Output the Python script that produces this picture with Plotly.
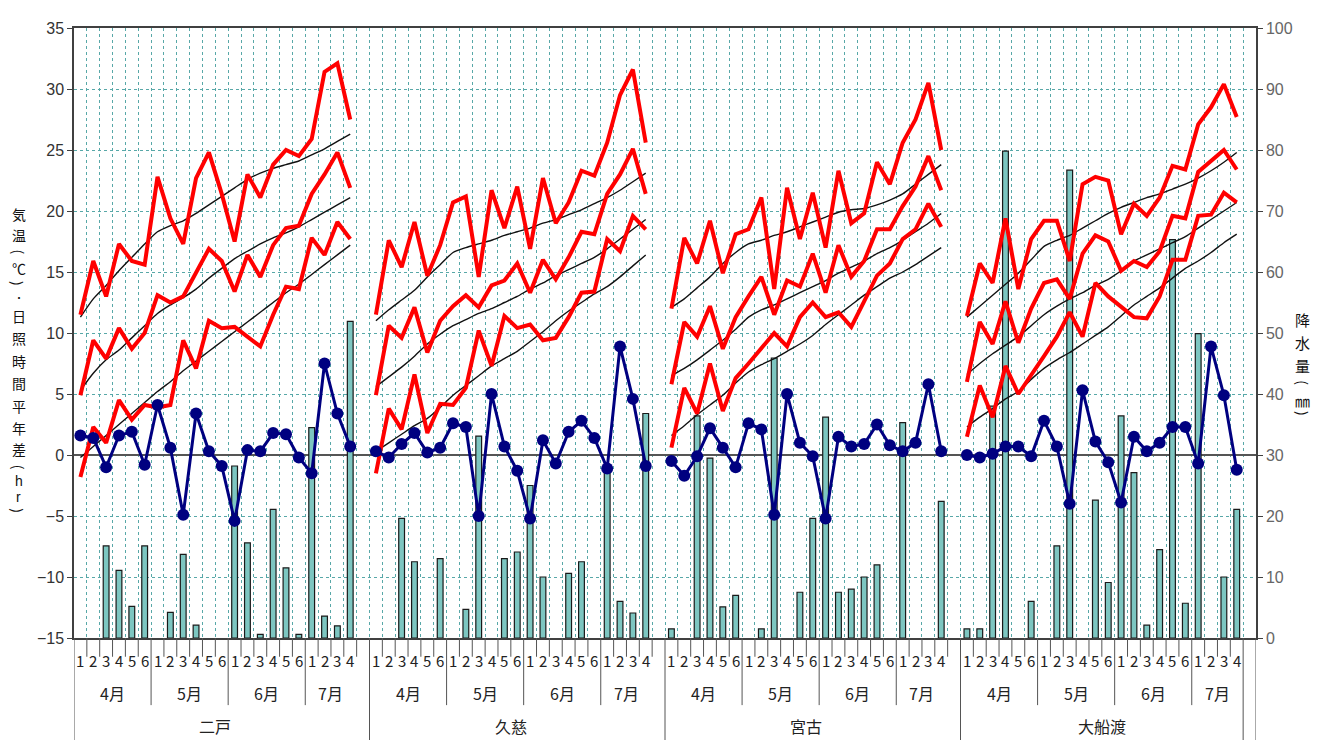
import plotly.graph_objects as go

# ---------------- data ----------------
stations = ["二戸", "久慈", "宮古", "大船渡"]
months = ["4月", "5月", "6月", "7月"]
periods_per_month = [6, 6, 6, 4]

# 二戸
ninohe_tmax = [11.5, 15.9, 13.0, 17.3, 15.9, 15.6, 22.8, 19.4, 17.3, 22.7, 24.8, 21.4, 17.5, 23.0, 21.1, 23.8, 25.0, 24.5, 25.9, 31.4, 32.1, 27.5]
ninohe_tmax_norm = [11.3, 12.8, 13.9, 15.1, 16.2, 17.3, 18.3, 18.8, 19.2, 19.8, 20.5, 21.2, 21.9, 22.6, 23.1, 23.5, 23.8, 24.1, 24.6, 25.1, 25.7, 26.3]
ninohe_tmean = [4.9, 9.4, 7.9, 10.4, 8.7, 10.0, 13.1, 12.5, 13.0, 14.9, 16.9, 15.9, 13.4, 16.4, 14.6, 17.2, 18.6, 18.8, 21.4, 23.0, 24.8, 21.9]
ninohe_tmean_norm = [5.3, 6.7, 7.8, 8.6, 9.6, 10.6, 11.6, 12.3, 12.9, 13.6, 14.5, 15.3, 16.1, 16.7, 17.3, 17.8, 18.2, 18.7, 19.3, 19.9, 20.5, 21.1]
ninohe_tmin = [-1.8, 2.3, 1.0, 4.5, 2.9, 4.1, 3.9, 4.1, 9.4, 7.1, 11.0, 10.4, 10.5, 9.7, 8.9, 11.5, 13.8, 13.6, 17.8, 16.4, 19.1, 17.7]
ninohe_tmin_norm = [-0.2, 0.7, 1.6, 2.5, 3.4, 4.3, 5.2, 6.0, 6.9, 7.7, 8.5, 9.3, 10.1, 10.9, 11.7, 12.5, 13.3, 14.0, 14.8, 15.6, 16.4, 17.2]
ninohe_sun = [1.6, 1.4, -1.0, 1.6, 1.9, -0.8, 4.1, 0.6, -4.9, 3.4, 0.3, -0.9, -5.4, 0.4, 0.3, 1.8, 1.7, -0.2, -1.5, 7.5, 3.4, 0.7]
ninohe_precip = [None, None, 15.1, 11.1, 5.2, 15.1, None, 4.2, 13.7, 2.1, None, None, 28.2, 15.6, 0.6, 21.1, 11.5, 0.6, 34.5, 3.6, 2.0, 51.9]

# 久慈
kuji_tmax = [11.5, 17.6, 15.4, 19.1, 14.7, 17.2, 20.7, 21.2, 14.6, 21.7, 18.6, 22.0, 16.9, 22.7, 19.0, 20.7, 23.3, 22.9, 25.6, 29.5, 31.6, 25.6]
kuji_tmax_norm = [11.0, 11.9, 12.7, 13.5, 14.6, 15.6, 16.6, 17.0, 17.3, 17.6, 18.0, 18.3, 18.6, 19.0, 19.3, 19.7, 20.1, 20.6, 21.1, 21.7, 22.4, 23.1]
kuji_tmean = [4.9, 10.6, 9.6, 12.1, 8.4, 11.0, 12.2, 13.1, 12.1, 13.9, 14.3, 15.7, 13.3, 16.0, 14.4, 16.2, 18.3, 18.1, 21.4, 23.0, 25.1, 21.4]
kuji_tmean_norm = [5.6, 6.4, 7.2, 8.1, 9.1, 9.9, 10.6, 11.1, 11.6, 12.0, 12.5, 13.0, 13.6, 14.1, 14.7, 15.2, 15.7, 16.2, 16.9, 17.7, 18.5, 19.3]
kuji_tmin = [-1.5, 3.8, 2.1, 6.6, 1.8, 4.2, 4.1, 5.5, 10.2, 7.3, 11.4, 10.4, 10.7, 9.4, 9.6, 11.3, 13.3, 13.4, 17.7, 16.7, 19.6, 18.5]
kuji_tmin_norm = [0.3, 1.0, 1.7, 2.4, 3.0, 3.9, 4.9, 5.7, 6.5, 7.3, 7.9, 8.5, 9.3, 10.1, 11.0, 11.8, 12.5, 13.2, 13.8, 14.6, 15.5, 16.4]
kuji_sun = [0.3, -0.2, 0.9, 1.8, 0.2, 0.6, 2.6, 2.3, -5.0, 5.0, 0.7, -1.3, -5.2, 1.2, -0.7, 1.9, 2.8, 1.4, -1.1, 8.9, 4.6, -0.9]
kuji_precip = [None, None, 19.6, 12.5, None, 13.0, None, 4.7, 33.1, None, 13.0, 14.1, 25.0, 10.0, None, 10.6, 12.5, None, 27.5, 6.0, 4.1, 36.8]

# 宮古
miyako_tmax = [12.0, 17.8, 15.7, 19.2, 14.9, 18.1, 18.5, 21.1, 13.6, 21.9, 17.7, 21.5, 17.0, 23.3, 19.0, 19.8, 24.0, 22.2, 25.6, 27.5, 30.5, 25.0]
miyako_tmax_norm = [12.1, 12.8, 13.7, 14.6, 15.7, 16.6, 17.3, 17.6, 18.0, 18.3, 18.7, 19.1, 19.5, 19.9, 20.1, 20.2, 20.5, 20.9, 21.4, 22.2, 23.0, 23.8]
miyako_tmean = [5.8, 10.9, 9.7, 12.2, 8.7, 11.3, 13.0, 14.6, 11.5, 14.3, 13.8, 16.5, 13.3, 17.2, 14.6, 15.9, 18.5, 18.5, 20.4, 22.0, 24.5, 21.7]
miyako_tmean_norm = [6.5, 7.1, 7.8, 8.6, 9.4, 10.3, 11.3, 11.9, 12.3, 12.8, 13.3, 13.8, 14.3, 14.9, 15.4, 15.9, 16.5, 17.0, 17.6, 18.3, 19.0, 19.8]
miyako_tmin = [0.6, 5.5, 3.4, 7.5, 3.6, 6.3, 7.5, 8.7, 10.0, 8.9, 11.3, 12.5, 11.3, 11.7, 10.5, 12.6, 14.7, 15.7, 17.7, 18.5, 20.6, 18.7]
miyako_tmin_norm = [1.6, 2.4, 3.3, 4.1, 4.9, 5.9, 6.8, 7.4, 7.9, 8.5, 9.1, 9.8, 10.7, 11.5, 12.3, 13.1, 13.8, 14.5, 15.0, 15.6, 16.3, 17.0]
miyako_sun = [-0.5, -1.7, -0.1, 2.2, 0.6, -1.0, 2.6, 2.1, -4.9, 5.0, 1.0, -0.1, -5.2, 1.5, 0.7, 0.9, 2.5, 0.8, 0.3, 1.0, 5.8, 0.3]
miyako_precip = [1.5, None, 36.4, 29.5, 5.1, 7.0, None, 1.5, 45.9, None, 7.5, 19.6, 36.2, 7.5, 8.0, 10.0, 12.0, None, 35.3, None, None, 22.4]

# 大船渡
ofunato_tmax = [11.4, 15.7, 14.1, 19.4, 13.6, 17.7, 19.2, 19.2, 15.9, 22.2, 22.8, 22.5, 18.1, 20.6, 19.6, 21.1, 23.7, 23.4, 27.1, 28.5, 30.4, 27.7]
ofunato_tmax_norm = [11.3, 12.2, 13.1, 14.0, 14.9, 16.0, 17.1, 17.6, 18.0, 18.6, 19.2, 19.8, 20.3, 20.7, 21.1, 21.4, 21.8, 22.2, 22.7, 23.3, 24.0, 24.8]
ofunato_tmean = [6.0, 10.9, 9.1, 12.6, 9.2, 12.0, 14.1, 14.4, 12.8, 16.5, 18.0, 17.5, 15.1, 15.9, 15.4, 16.7, 19.6, 19.4, 23.2, 24.1, 25.0, 23.4]
ofunato_tmean_norm = [6.6, 7.5, 8.3, 9.0, 9.7, 10.6, 11.5, 12.2, 12.8, 13.3, 13.9, 14.4, 15.1, 15.9, 16.4, 16.9, 17.4, 17.9, 18.6, 19.3, 20.0, 20.7]
ofunato_tmin = [1.5, 5.7, 3.1, 7.3, 5.0, 6.5, 8.1, 9.7, 11.7, 9.7, 14.1, 13.0, 12.1, 11.3, 11.2, 13.0, 16.0, 16.0, 19.6, 19.7, 21.5, 20.7]
ofunato_tmin_norm = [2.3, 3.1, 3.8, 4.6, 5.2, 6.2, 7.1, 7.8, 8.4, 9.1, 9.8, 10.5, 11.4, 12.3, 13.0, 13.7, 14.5, 15.3, 15.9, 16.6, 17.4, 18.1]
ofunato_sun = [0.0, -0.2, 0.1, 0.7, 0.7, -0.1, 2.8, 0.7, -4.0, 5.3, 1.1, -0.6, -3.9, 1.5, 0.3, 1.0, 2.3, 2.3, -0.7, 8.9, 4.9, -1.2]
ofunato_precip = [1.5, 1.5, 38.0, 79.8, None, 6.0, None, 15.1, 76.7, None, 22.6, 9.1, 36.4, 27.1, 2.1, 14.5, 65.3, 5.7, 49.9, None, 10.0, 21.1]

left_title_chars = list("気温(℃)・日照時間平年差(hr)")
right_title_chars = list("降水量(㎜)")

# ---------------- assembly ----------------
N = sum(periods_per_month)  # 22 periods per station
STRIDE = N + 1              # one empty column after each station


def join(*series):
    xs, ys = [], []
    for s, vals in enumerate(series):
        for i, v in enumerate(vals):
            xs.append(s * STRIDE + i)
            ys.append(v)
        xs.append(s * STRIDE + N)
        ys.append(None)
    return xs, ys


RED = "#ff0000"
NAVY = "#000080"
GRID = "#58a8a8"
AXIS = "#404040"

fig = go.Figure()

px, py = join(ninohe_precip, kuji_precip, miyako_precip, ofunato_precip)
fig.add_trace(go.Bar(x=px, y=py, width=0.45, yaxis="y", xaxis="x",
                     marker=dict(color="#7dc6c1", line=dict(color="#1a1a1a", width=1.2)),
                     name="降水量"))

for name, ser in [
    ("最高気温平年", (ninohe_tmax_norm, kuji_tmax_norm, miyako_tmax_norm, ofunato_tmax_norm)),
    ("平均気温平年", (ninohe_tmean_norm, kuji_tmean_norm, miyako_tmean_norm, ofunato_tmean_norm)),
    ("最低気温平年", (ninohe_tmin_norm, kuji_tmin_norm, miyako_tmin_norm, ofunato_tmin_norm)),
]:
    x, y = join(*ser)
    fig.add_trace(go.Scatter(x=x, y=y, mode="lines", yaxis="y2", name=name,
                             line=dict(color="#111111", width=1.4, shape="spline", smoothing=0.6)))

for name, ser in [
    ("最高気温", (ninohe_tmax, kuji_tmax, miyako_tmax, ofunato_tmax)),
    ("平均気温", (ninohe_tmean, kuji_tmean, miyako_tmean, ofunato_tmean)),
    ("最低気温", (ninohe_tmin, kuji_tmin, miyako_tmin, ofunato_tmin)),
]:
    x, y = join(*ser)
    fig.add_trace(go.Scatter(x=x, y=y, mode="lines", yaxis="y2", name=name,
                             line=dict(color=RED, width=4)))

x, y = join(ninohe_sun, kuji_sun, miyako_sun, ofunato_sun)
fig.add_trace(go.Scatter(x=x, y=y, mode="lines+markers", yaxis="y2", name="日照時間平年差",
                         line=dict(color=NAVY, width=3),
                         marker=dict(color=NAVY, size=12)))

# ---------------- geometry (page pixels) ----------------
BODY = 8               # default page margin in the browser
PL, PR, PT, PB = 73.5, 1256, 20, 638   # plot area in page pixels
W, H = 1319 - BODY, 740 - BODY
ph = PB - PT


def py_paper(pix):
    return (PB - pix) / ph


def px_paper(pix):
    return (pix - PL) / (PR - PL)


annotations = []
shapes = []
FONT = "Noto Sans CJK JP"
LATIN = "Liberation Sans"


def label(x, y, text, font, xref="x", angle=0):
    return dict(x=x, y=y, xref=xref, yref="paper", text=text, showarrow=False,
                xanchor="center", yanchor="middle", textangle=angle, font=font)


month_ends = []
acc = 0
for cnt in periods_per_month:
    acc += cnt
    month_ends.append(acc)

for s, st in enumerate(stations):
    base = s * STRIDE
    i = 0
    for m, cnt in enumerate(periods_per_month):
        for k in range(cnt):
            annotations.append(label(base + i, py_paper(661), str(k + 1),
                                     dict(family=FONT, size=15, color="#222")))
            i += 1
        annotations.append(label(base + i - cnt / 2 - 0.5, py_paper(694), months[m],
                                 dict(family=FONT, size=16, color="#222")))
    annotations.append(label(base + (N - 1) / 2, py_paper(727), st,
                             dict(family=FONT, size=16, color="#222")))
    for b in range(1, N + 1):
        xb = base + b - 0.5
        if b == N and s == len(stations) - 1:
            continue
        y1 = py_paper(706) if b in month_ends[:-1] else py_paper(657)
        shapes.append(dict(type="line", xref="x", yref="paper", x0=xb, x1=xb,
                           y0=0, y1=y1, line=dict(color="#555", width=1)))

station_lines = [s * STRIDE - 0.5 for s in range(len(stations))] + \
                [len(stations) * STRIDE - 1.5, len(stations) * STRIDE - 0.5]
for xb in station_lines:
    shapes.append(dict(type="line", xref="x", yref="paper", x0=xb, x1=xb,
                       y0=0, y1=py_paper(748), line=dict(color="#555", width=1)))


def title_font(ch, kanji_size):
    if ch in "()":
        return dict(family=FONT, size=14, color="#111"), 90
    if ch in "hr":
        return dict(family=LATIN, size=14, color="#111"), 0
    if ch == "・":
        return dict(family=FONT, size=10, color="#111"), 0
    return dict(family=FONT, size=kanji_size, color="#111"), 0


# vertical (stacked) axis titles, one character per row; brackets turned sideways
left_rows = [208, 230, 247, 263, 279, 293, 312, 334, 357, 380, 403, 425, 447, 465, 479, 495, 509]
for ch, yy in zip(left_title_chars, left_rows):
    f, ang = title_font(ch, 14)
    annotations.append(label(px_paper(18), py_paper(yy), ch, f, xref="paper", angle=ang))
right_rows = [315, 339, 362, 380, 397, 411]
for ch, yy in zip(right_title_chars, right_rows):
    f, ang = title_font(ch, 15)
    annotations.append(label(px_paper(1303), py_paper(yy), ch, f, xref="paper", angle=ang))

ntot = len(stations) * STRIDE
fig.update_layout(
    width=W, height=H,
    margin=dict(l=PL - BODY, r=W - (PR - BODY), t=PT - BODY, b=H - (PB - BODY), pad=0),
    plot_bgcolor="white", paper_bgcolor="white",
    showlegend=False,
    font=dict(family=FONT, size=14, color="#333"),
    xaxis=dict(range=[-0.5, ntot - 0.5], tickvals=[k - 0.5 for k in range(ntot + 1)],
               showticklabels=False, ticks="", showgrid=True, gridcolor=GRID, griddash="dot",
               gridwidth=1, showline=True, linecolor=AXIS, linewidth=1.5, mirror=True,
               zeroline=False, fixedrange=True),
    yaxis=dict(range=[0, 100], side="right", tickvals=list(range(0, 101, 10)),
               showgrid=True, gridcolor=GRID, griddash="dot", gridwidth=1,
               ticks="outside", ticklen=5, tickcolor=AXIS, showline=True, linecolor=AXIS,
               linewidth=1.5, zeroline=False,
               tickfont=dict(family=LATIN, size=16, color="#666")),
    yaxis2=dict(range=[-15, 35], overlaying="y", side="left", tickvals=list(range(-15, 36, 5)),
                showgrid=False, zeroline=True, zerolinecolor="#555", zerolinewidth=2,
                ticks="outside", ticklen=5, tickcolor=AXIS, showline=True, linecolor=AXIS,
                linewidth=1.5,
                tickfont=dict(family=LATIN, size=16, color="#333")),
    annotations=annotations,
    shapes=shapes,
)

fig.write_html("out.html")
